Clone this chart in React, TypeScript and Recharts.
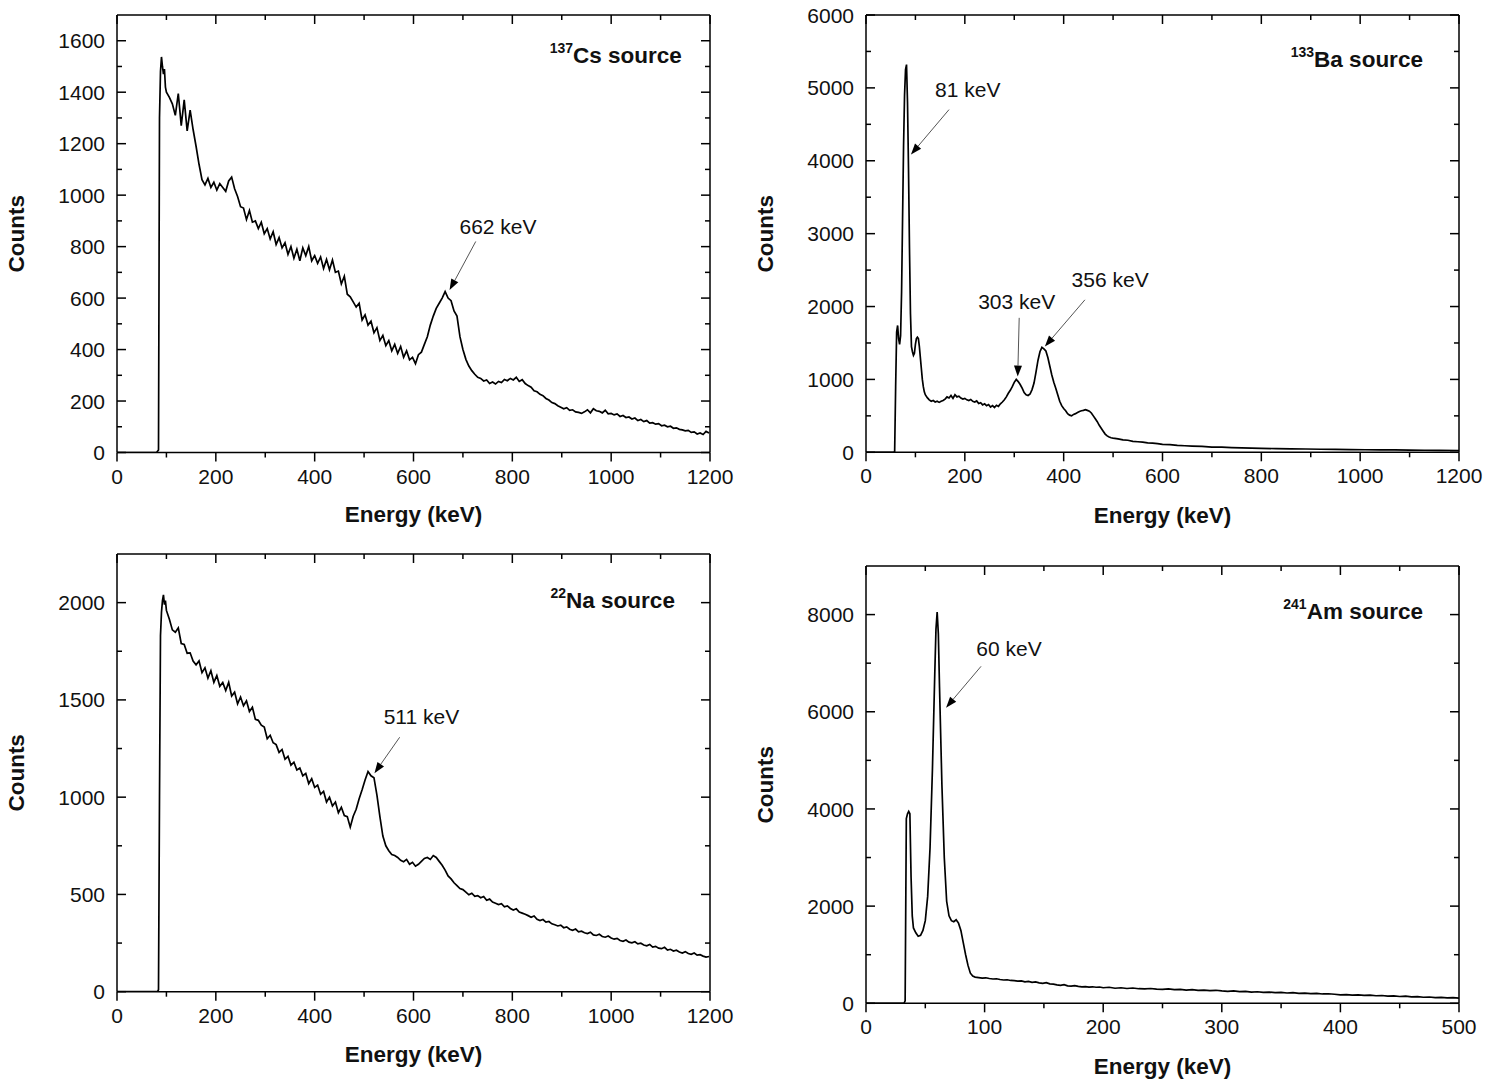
import React from 'react';
import { LineChart, Line, XAxis, YAxis, ReferenceLine, ReferenceDot } from 'recharts';

const FONT = "'Liberation Sans', Arial, Helvetica, sans-serif";

// ---------- 137Cs spectrum ----------
const CS_ENERGY = [
  0, 80, 84, 86, 88, 90, 92, 94, 96, 98, 100,
  106, 112, 118, 124, 130, 136, 142, 148, 154, 160,
  166, 172, 178, 184, 190, 196, 202, 208, 214, 220,
  226, 232, 238, 244, 250, 256, 262, 268, 274, 280,
  286, 292, 298, 304, 310, 316, 322, 328, 334, 340,
  346, 352, 358, 364, 370, 376, 382, 388, 394, 400,
  406, 412, 418, 424, 430, 436, 442, 448, 454, 460,
  466, 472, 478, 484, 490, 496, 502, 508, 514, 520,
  526, 532, 538, 544, 550, 556, 562, 568, 574, 580,
  586, 592, 598, 604, 610, 616, 622, 628, 634, 640,
  646, 652, 658, 664, 670, 676, 682, 688, 694, 700,
  706, 712, 718, 724, 730, 736, 742, 748, 754, 760,
  766, 772, 778, 784, 790, 796, 802, 808, 814, 820,
  826, 832, 838, 844, 850, 856, 862, 868, 874, 880,
  886, 892, 898, 904, 910, 916, 922, 928, 934, 940,
  946, 952, 958, 964, 970, 976, 982, 988, 994, 1000,
  1006, 1012, 1018, 1024, 1030, 1036, 1042, 1048, 1054, 1060,
  1066, 1072, 1078, 1084, 1090, 1096, 1102, 1108, 1114, 1120,
  1126, 1132, 1138, 1144, 1150, 1156, 1162, 1168, 1174, 1180,
  1186, 1192, 1198,
];
const CS_COUNTS = [
  0, 0, 10, 1300, 1480, 1537, 1500, 1470, 1490, 1420, 1400,
  1380, 1355, 1310, 1395, 1270, 1370, 1250, 1330, 1255, 1190,
  1120, 1060, 1040, 1065, 1030, 1050, 1020, 1045, 1030, 1015,
  1055, 1070, 1025, 995, 955, 950, 905, 940, 895, 900,
  870, 895, 850, 870, 830, 858, 808, 835, 795, 815,
  770, 800, 755, 790, 745, 795, 765, 800, 745, 765,
  735, 760, 715, 750, 710, 748, 700, 705, 655, 685,
  615, 605, 585, 565, 580, 515, 535, 495, 510, 465,
  485, 435, 455, 415, 435, 395, 420, 385, 412, 370,
  395, 360, 370, 345, 380, 390, 420, 450, 495, 530,
  560, 580, 600, 625, 600, 590, 550, 530, 450, 400,
  362, 336, 318, 304, 292, 288, 278, 282, 268, 274,
  266, 276, 272, 284, 279, 288, 282, 292, 276, 283,
  268, 260, 254, 240, 236, 226, 221, 210, 204, 194,
  190, 182, 176, 170, 174, 164, 166, 158, 156, 152,
  158, 166, 154, 170, 162, 160, 154, 164, 150, 152,
  146, 150, 140, 144, 136, 138, 130, 134, 124, 128,
  120, 124, 114, 116, 110, 112, 104, 106, 100, 102,
  94, 96, 90, 88, 84, 86, 78, 80, 72, 76,
  70, 82, 76,
];

// ---------- 133Ba spectrum ----------
const BA_ENERGY = [
  0, 56, 58, 60, 62, 64, 66, 68, 70, 72,
  74, 76, 78, 80, 82, 84, 86, 88, 90, 92,
  94, 96, 98, 100, 102, 104, 106, 108, 110, 112,
  114, 116, 118, 120, 124, 128, 132, 136, 140, 144,
  148, 152, 156, 160, 164, 168, 172, 176, 180, 184,
  188, 192, 196, 200, 204, 208, 212, 216, 220, 224,
  228, 232, 236, 240, 244, 248, 252, 256, 260, 264,
  268, 272, 276, 280, 284, 288, 292, 296, 300, 304,
  308, 312, 316, 320, 324, 328, 332, 336, 340, 344,
  348, 352, 356, 360, 364, 368, 372, 376, 380, 384,
  388, 392, 396, 400, 404, 408, 412, 416, 420, 424,
  428, 432, 436, 440, 444, 448, 452, 456, 460, 464,
  468, 472, 476, 480, 484, 488, 492, 496, 500, 510,
  520, 530, 540, 550, 560, 570, 580, 590, 600, 615,
  630, 645, 660, 680, 700, 720, 740, 760, 780, 800,
  830, 860, 890, 920, 950, 980, 1010, 1040, 1070, 1100,
  1130, 1160, 1200,
];
const BA_COUNTS = [
  0, 0, 10, 900, 1650, 1740, 1560, 1480, 1600, 2200,
  3200, 4200, 4900, 5250, 5320, 4800, 3900, 2800, 1900, 1450,
  1380, 1330, 1360, 1480, 1560, 1580, 1560, 1450, 1300, 1150,
  1000, 900, 830, 790, 750, 720, 700, 710, 690, 700,
  685, 700, 710, 730, 760, 745, 780, 740, 790, 760,
  770, 745, 730, 740, 720, 710, 725, 700, 690, 705,
  670, 680, 650, 665, 640, 655, 620, 640, 615, 645,
  630, 665, 690, 720, 760, 810, 850, 900, 960, 1000,
  970, 930, 880, 820, 790, 780, 800, 860, 950, 1100,
  1260, 1380, 1440, 1420, 1390, 1300, 1180, 1060, 960, 880,
  790, 700, 640, 600, 570, 530, 510, 500, 520, 530,
  545, 560, 570, 575, 585, 575, 565, 540, 500, 460,
  420, 370, 330, 290, 250, 225, 210, 200, 195, 185,
  170, 165, 150, 145, 140, 130, 125, 120, 110, 105,
  95, 90, 85, 80, 72, 70, 65, 60, 58, 55,
  50, 48, 45, 42, 40, 38, 35, 33, 32, 30,
  28, 27, 25,
];

// ---------- 22Na spectrum ----------
const NA_ENERGY = [
  0, 82, 84, 86, 88, 90, 92, 94, 96, 98, 100,
  106, 112, 118, 124, 130, 136, 142, 148, 154, 160,
  166, 172, 178, 184, 190, 196, 202, 208, 214, 220,
  226, 232, 238, 244, 250, 256, 262, 268, 274, 280,
  286, 292, 298, 304, 310, 316, 322, 328, 334, 340,
  346, 352, 358, 364, 370, 376, 382, 388, 394, 400,
  406, 412, 418, 424, 430, 436, 442, 448, 454, 460,
  466, 472, 478, 484, 490, 496, 502, 508, 514, 520,
  526, 532, 538, 544, 550, 556, 562, 568, 574, 580,
  586, 592, 598, 604, 610, 616, 622, 628, 634, 640,
  646, 652, 658, 664, 670, 676, 682, 688, 694, 700,
  706, 712, 718, 724, 730, 736, 742, 748, 754, 760,
  766, 772, 778, 784, 790, 796, 802, 808, 814, 820,
  826, 832, 838, 844, 850, 856, 862, 868, 874, 880,
  886, 892, 898, 904, 910, 916, 922, 928, 934, 940,
  946, 952, 958, 964, 970, 976, 982, 988, 994, 1000,
  1006, 1012, 1018, 1024, 1030, 1036, 1042, 1048, 1054, 1060,
  1066, 1072, 1078, 1084, 1090, 1096, 1102, 1108, 1114, 1120,
  1126, 1132, 1138, 1144, 1150, 1156, 1162, 1168, 1174, 1180,
  1186, 1192, 1198,
];
const NA_COUNTS = [
  0, 0, 10, 1000, 1830, 1950, 2010, 2040, 1990, 2010, 1960,
  1915, 1860, 1848, 1870, 1790, 1785, 1740, 1742, 1700, 1680,
  1700, 1640, 1665, 1612, 1650, 1590, 1625, 1570, 1590, 1548,
  1590, 1520, 1540, 1480, 1515, 1470, 1495, 1440, 1462, 1400,
  1395, 1370, 1360, 1300, 1318, 1280, 1270, 1230, 1245, 1195,
  1210, 1165, 1180, 1140, 1150, 1110, 1122, 1070, 1095, 1050,
  1062, 1015, 1030, 975, 1000, 955, 975, 920, 948, 905,
  900, 846, 902, 938, 992, 1038, 1088, 1132, 1110, 1100,
  1010, 900, 800, 750, 725, 705, 700, 690, 675, 668,
  680, 655, 665, 645, 655, 670, 685, 690, 680, 700,
  690, 670, 650, 625, 595, 580, 560, 545, 530, 525,
  512, 498, 506, 490, 494, 483, 489, 470, 476, 461,
  455, 448, 452, 436, 441, 428, 420, 426, 409, 404,
  398, 391, 383, 389, 372, 366, 371, 358, 361, 349,
  344, 338, 342, 329, 333, 321, 316, 322, 308, 311,
  303, 299, 306, 292, 289, 295, 284, 280, 286, 276,
  270, 274, 263, 259, 266, 255, 251, 257, 246, 249,
  240, 236, 243, 229, 233, 224, 221, 228, 214, 218,
  209, 213, 204, 199, 206, 196, 192, 199, 188, 190,
  183, 178, 181,
];

// ---------- 241Am spectrum ----------
const AM_ENERGY = [
  0, 32, 33, 34, 35, 36, 37, 38, 39, 40,
  42, 44, 46, 48, 50, 52, 54, 56, 58, 59,
  60, 61, 62, 64, 66, 68, 70, 72, 74, 76,
  78, 80, 82, 84, 86, 88, 90, 92, 95, 98,
  101, 104, 107, 110, 113, 116, 119, 122, 125, 128,
  131, 134, 137, 140, 143, 146, 149, 152, 155, 158,
  161, 164, 167, 170, 173, 176, 179, 182, 185, 188,
  191, 194, 197, 200, 205, 210, 215, 220, 225, 230,
  235, 240, 245, 250, 255, 260, 265, 270, 275, 280,
  285, 290, 295, 300, 305, 310, 315, 320, 325, 330,
  335, 340, 345, 350, 355, 360, 365, 370, 375, 380,
  385, 390, 395, 400, 405, 410, 415, 420, 425, 430,
  435, 440, 445, 450, 455, 460, 465, 470, 475, 480,
  485, 490, 495, 500,
];
const AM_COUNTS = [
  0, 0, 50, 3800, 3900, 3950, 3900, 2600, 1800, 1550,
  1450, 1380, 1400, 1500, 1700, 2200, 3200, 4800, 6800, 7700,
  8050, 7600, 6500, 4500, 3000, 2100, 1800, 1700, 1680, 1720,
  1650, 1500, 1250, 1000, 780, 620, 560, 540, 530, 520,
  525, 510, 500, 505, 490, 480, 485, 470, 465, 455,
  460, 440, 450, 430, 440, 420, 410, 425, 400, 395,
  380, 370, 385, 360, 355, 365, 350, 340, 345, 335,
  340, 330, 335, 320, 330, 310, 320, 305, 315, 300,
  295, 305, 290, 285, 295, 280, 285, 272, 280, 265,
  270, 262, 268, 255, 245, 255, 240, 245, 232, 238,
  225, 230, 220, 226, 212, 218, 205, 210, 200, 206,
  192, 196, 186, 175, 180, 170, 175, 162, 168, 155,
  160, 148, 152, 140, 146, 132, 138, 125, 130, 118,
  122, 110, 115, 105,
];

// ---------- ticks ----------
const E1200_MAJOR = [0, 200, 400, 600, 800, 1000, 1200];
const E1200_MINOR = [100, 300, 500, 700, 900, 1100];
const E500_MAJOR = [0, 100, 200, 300, 400, 500];
const E500_MINOR = [50, 150, 250, 350, 450];
const CS_Y_MAJOR = [0, 200, 400, 600, 800, 1000, 1200, 1400, 1600];
const CS_Y_MINOR = [100, 300, 500, 700, 900, 1100, 1300, 1500];
const BA_Y_MAJOR = [0, 1000, 2000, 3000, 4000, 5000, 6000];
const BA_Y_MINOR = [500, 1500, 2500, 3500, 4500, 5500];
const NA_Y_MAJOR = [0, 500, 1000, 1500, 2000];
const NA_Y_MINOR = [250, 750, 1250, 1750];
const AM_Y_MAJOR = [0, 2000, 4000, 6000, 8000];
const AM_Y_MINOR = [1000, 3000, 5000, 7000];

// ---------- annotations (data coordinates) ----------
type Annot = { text: string; at: [number, number]; from: [number, number]; to: [number, number] };
const CS_ANNOTS: Annot[] = [{ text: '662 keV', at: [771, 880], from: [726, 820], to: [673, 631] }];
const BA_ANNOTS: Annot[] = [
  { text: '81 keV', at: [206, 4977], from: [168, 4702], to: [91, 4085] },
  { text: '303 keV', at: [305, 2069], from: [310, 1845], to: [307, 1039] },
  { text: '356 keV', at: [494, 2367], from: [443, 2092], to: [362, 1451] },
];
const NA_ANNOTS: Annot[] = [{ text: '511 keV', at: [616, 1414], from: [572, 1308], to: [521, 1123] }];
const AM_ANNOTS: Annot[] = [{ text: '60 keV', at: [120.6, 7299], from: [97, 6935], to: [67.5, 6084] }];

type Source = { mass: string; element: string; at: [number, number] };
const CS_SOURCE: Source = { mass: '137', element: 'Cs source', at: [1143, 1514] };
const BA_SOURCE: Source = { mass: '133', element: 'Ba source', at: [1127, 5293] };
const NA_SOURCE: Source = { mass: '22', element: 'Na source', at: [1129, 1973] };
const AM_SOURCE: Source = { mass: '241', element: 'Am source', at: [469.6, 7917] };

const TICK_FONT = 21;
const INK = '#000';

// tick labels only (tick marks are drawn by reference lines below)
const makeBottomLabel = (majors: number[]) => (props: any) => {
  const { x, y, payload } = props;
  if (!majors.includes(payload.value)) return <g />;
  return (
    <text x={x} y={y + 31} textAnchor="middle" fontSize={TICK_FONT} fontFamily={FONT} fill="#111">
      {payload.value}
    </text>
  );
};
const makeLeftLabel = (majors: number[]) => (props: any) => {
  const { x, y, payload } = props;
  if (!majors.includes(payload.value)) return <g />;
  return (
    <text x={x - 12} y={y} dy="0.36em" textAnchor="end" fontSize={TICK_FONT} fontFamily={FONT} fill="#111">
      {payload.value}
    </text>
  );
};

// vertical tick marks: outward at the bottom axis, inward at the top frame
const makeXTickShape = (major: boolean) => (props: any) => {
  const { x1, y1, y2 } = props;
  const top = Math.min(y1, y2);
  const bottom = Math.max(y1, y2);
  const len = major ? 9 : 5;
  return (
    <g>
      <line x1={x1} y1={bottom} x2={x1} y2={bottom + len} stroke={INK} strokeWidth={1.5} />
      <line x1={x1} y1={top} x2={x1} y2={top + len} stroke={INK} strokeWidth={1.5} />
    </g>
  );
};
// horizontal tick marks: inward at both the left axis and the right frame
const makeYTickShape = (major: boolean) => (props: any) => {
  const { x1, x2, y1 } = props;
  const left = Math.min(x1, x2);
  const right = Math.max(x1, x2);
  const len = major ? 9 : 5;
  return (
    <g>
      <line x1={left} y1={y1} x2={left + len} y2={y1} stroke={INK} strokeWidth={1.5} />
      <line x1={right} y1={y1} x2={right - len} y2={y1} stroke={INK} strokeWidth={1.5} />
    </g>
  );
};

const xTitle = (offset: number) => (props: any) => {
  const vb = props.viewBox ?? props;
  return (
    <text x={vb.x + vb.width / 2} y={vb.y + offset} textAnchor="middle" fontSize={22.5} fontWeight="bold" fontFamily={FONT} fill="#111">
      Energy (keV)
    </text>
  );
};
const yTitle = (props: any) => {
  const vb = props.viewBox ?? props;
  const x = vb.x + vb.width - 93;
  const y = vb.y + vb.height / 2;
  return (
    <text x={x} y={y} transform={`rotate(-90 ${x} ${y})`} textAnchor="middle" fontSize={22.5} fontWeight="bold" fontFamily={FONT} fill="#111">
      Counts
    </text>
  );
};

const arrowShape = (props: any) => {
  const { x1, y1, x2, y2 } = props;
  const ang = Math.atan2(y2 - y1, x2 - x1);
  const L = 11;
  const W = 4;
  const bx = x2 - L * Math.cos(ang);
  const by = y2 - L * Math.sin(ang);
  const px = -Math.sin(ang) * W;
  const py = Math.cos(ang) * W;
  return (
    <g>
      <line x1={x1} y1={y1} x2={bx} y2={by} stroke="#555" strokeWidth={1} />
      <polygon points={`${x2},${y2} ${bx + px},${by + py} ${bx - px},${by - py}`} fill="#000" />
    </g>
  );
};

const sorted = (a: number[], b: number[]) => [...a, ...b].sort((p, q) => p - q);

type PanelProps = {
  left: number; top: number; width: number; height: number;
  margin: { top: number; right: number; bottom: number; left: number };
  yAxisWidth: number; xAxisHeight: number; xTitleOffset: number;
  energy: number[]; counts: number[];
  xDomain: [number, number]; yDomain: [number, number];
  xMajor: number[]; xMinor: number[]; yMajor: number[]; yMinor: number[];
  annots: Annot[]; source: Source;
};

function Panel(p: PanelProps) {
  const data = p.energy.map((e, i) => ({ e, c: p.counts[i] }));
  const xTicks = sorted(p.xMajor, p.xMinor);
  const yTicks = sorted(p.yMajor, p.yMinor);
  const axisLine = { stroke: INK, strokeWidth: 1.5 };
  const ids = { xAxisId: 'bottom', yAxisId: 'left' };
  return (
    <div style={{ position: 'absolute', left: p.left, top: p.top, width: p.width, height: p.height }}>
      <LineChart width={p.width} height={p.height} data={data} margin={p.margin}>
        <XAxis
          xAxisId="bottom" dataKey="e" type="number" domain={p.xDomain} allowDataOverflow
          ticks={xTicks} interval={0} tickSize={0} tickMargin={0} tickLine={false}
          tick={makeBottomLabel(p.xMajor)} axisLine={axisLine} height={p.xAxisHeight}
          label={xTitle(p.xTitleOffset)}
        />
        <YAxis
          yAxisId="left" type="number" domain={p.yDomain} allowDataOverflow
          ticks={yTicks} interval={0} tickSize={0} tickMargin={0} tickLine={false}
          tick={makeLeftLabel(p.yMajor)} axisLine={axisLine} width={p.yAxisWidth}
          label={yTitle}
        />
        {/* frame: top and right borders */}
        <ReferenceLine {...ids} y={p.yDomain[1]} stroke={INK} strokeWidth={1.5} ifOverflow="visible" />
        <ReferenceLine {...ids} x={p.xDomain[1]} stroke={INK} strokeWidth={1.5} ifOverflow="visible" />
        {p.xMajor.map((v) => (
          <ReferenceLine key={`xM${v}`} {...ids} x={v} ifOverflow="visible" shape={makeXTickShape(true)} />
        ))}
        {p.xMinor.map((v) => (
          <ReferenceLine key={`xm${v}`} {...ids} x={v} ifOverflow="visible" shape={makeXTickShape(false)} />
        ))}
        {p.yMajor.map((v) => (
          <ReferenceLine key={`yM${v}`} {...ids} y={v} ifOverflow="visible" shape={makeYTickShape(true)} />
        ))}
        {p.yMinor.map((v) => (
          <ReferenceLine key={`ym${v}`} {...ids} y={v} ifOverflow="visible" shape={makeYTickShape(false)} />
        ))}
        <Line
          {...ids} dataKey="c" type="linear" stroke={INK} strokeWidth={1.7}
          dot={false} activeDot={false} isAnimationActive={false}
        />
        {p.annots.map((a, i) => (
          <ReferenceLine
            key={`l${i}`} {...ids} ifOverflow="visible"
            segment={[{ x: a.from[0], y: a.from[1] }, { x: a.to[0], y: a.to[1] }]}
            shape={arrowShape}
          />
        ))}
        {p.annots.map((a, i) => (
          <ReferenceDot
            key={`t${i}`} {...ids} x={a.at[0]} y={a.at[1]} r={1} ifOverflow="visible"
            shape={(sp: any) => (
              <text x={sp.cx} y={sp.cy} dy="0.36em" textAnchor="middle" fontSize={21} fontFamily={FONT} fill="#111">
                {a.text}
              </text>
            )}
          />
        ))}
        <ReferenceDot
          {...ids} x={p.source.at[0]} y={p.source.at[1]} r={1} ifOverflow="visible"
          shape={(sp: any) => (
            <text x={sp.cx} y={sp.cy} textAnchor="end" fontFamily={FONT} fontWeight="bold" fill="#111">
              <tspan fontSize={14} dy={-10}>{p.source.mass}</tspan>
              <tspan fontSize={22.5} dy={10}>{p.source.element}</tspan>
            </text>
          )}
        />
      </LineChart>
    </div>
  );
}

export default function App() {
  return (
    <div style={{ position: 'absolute', left: 0, top: 0, width: 1490, height: 1085, background: '#fff', overflow: 'hidden' }}>
      <Panel
        left={0} top={0} width={745} height={540}
        margin={{ top: 15, right: 35, bottom: 0, left: 0 }}
        yAxisWidth={117} xAxisHeight={87.5} xTitleOffset={69}
        energy={CS_ENERGY} counts={CS_COUNTS} xDomain={[0, 1200]} yDomain={[0, 1700]}
        xMajor={E1200_MAJOR} xMinor={E1200_MINOR} yMajor={CS_Y_MAJOR} yMinor={CS_Y_MINOR}
        annots={CS_ANNOTS} source={CS_SOURCE}
      />
      <Panel
        left={745} top={0} width={745} height={540}
        margin={{ top: 15, right: 31, bottom: 0, left: 0 }}
        yAxisWidth={121} xAxisHeight={87.7} xTitleOffset={71}
        energy={BA_ENERGY} counts={BA_COUNTS} xDomain={[0, 1200]} yDomain={[0, 6000]}
        xMajor={E1200_MAJOR} xMinor={E1200_MINOR} yMajor={BA_Y_MAJOR} yMinor={BA_Y_MINOR}
        annots={BA_ANNOTS} source={BA_SOURCE}
      />
      <Panel
        left={0} top={540} width={745} height={545}
        margin={{ top: 14, right: 35, bottom: 0, left: 0 }}
        yAxisWidth={117} xAxisHeight={93.3} xTitleOffset={70}
        energy={NA_ENERGY} counts={NA_COUNTS} xDomain={[0, 1200]} yDomain={[0, 2250]}
        xMajor={E1200_MAJOR} xMinor={E1200_MINOR} yMajor={NA_Y_MAJOR} yMinor={NA_Y_MINOR}
        annots={NA_ANNOTS} source={NA_SOURCE}
      />
      <Panel
        left={745} top={540} width={745} height={545}
        margin={{ top: 26, right: 31, bottom: 0, left: 0 }}
        yAxisWidth={121} xAxisHeight={81.7} xTitleOffset={71}
        energy={AM_ENERGY} counts={AM_COUNTS} xDomain={[0, 500]} yDomain={[0, 9000]}
        xMajor={E500_MAJOR} xMinor={E500_MINOR} yMajor={AM_Y_MAJOR} yMinor={AM_Y_MINOR}
        annots={AM_ANNOTS} source={AM_SOURCE}
      />
    </div>
  );
}
